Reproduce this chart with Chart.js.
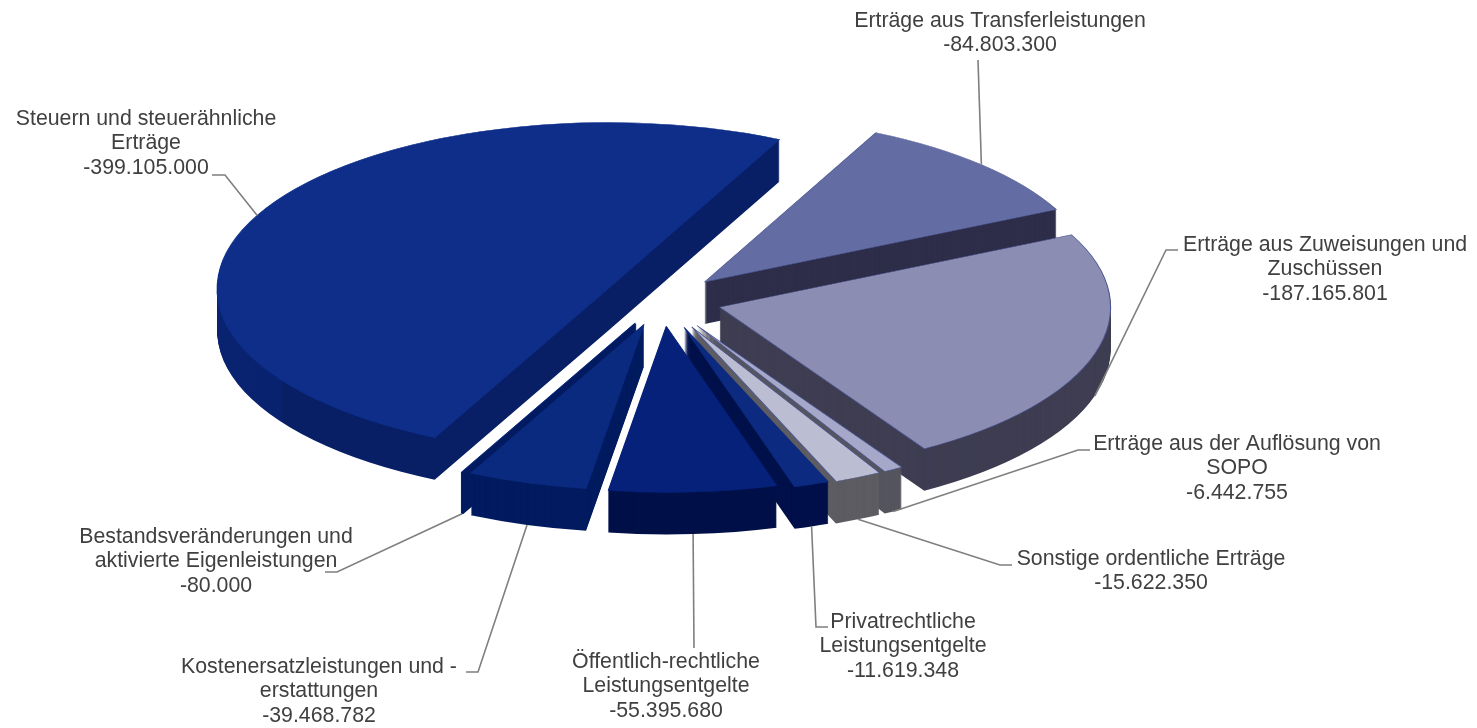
<!DOCTYPE html>
<html lang="de">
<head>
<meta charset="utf-8">
<title>Erträge</title>
<style>
    html, body { margin: 0; padding: 0; background: #fff; }
    canvas { display: block; }
</style>
</head>
<body>
<canvas id="pie" width="1477" height="728"></canvas>
<script src="https://cdn.jsdelivr.net/npm/chart.js@4/dist/chart.umd.min.js"></script>
<script>
// values, clockwise from the Transferleistungen slice
const categories = [
    ['Erträge aus Transferleistungen'],
    ['Erträge aus Zuweisungen und', 'Zuschüssen'],
    ['Erträge aus der Auflösung von', 'SOPO'],
    ['Sonstige ordentliche Erträge'],
    ['Privatrechtliche', 'Leistungsentgelte'],
    ['Öffentlich-rechtliche', 'Leistungsentgelte'],
    ['Kostenersatzleistungen und -', 'erstattungen'],
    ['Bestandsveränderungen und', 'aktivierte Eigenleistungen'],
    ['Steuern und steuerähnliche', 'Erträge']
];
const values = [-84803300, -187165801, -6442755, -15622350, -11619348, -55395680, -39468782, -80000, -399105000];

const topColors = ['#636ca3', '#8b8db3', '#a5a8c8', '#bbbdd3', '#0b2a80', '#05217a', '#0a2a80', '#0a2a80', '#0e2e8a'];
const sideColors = ['#2e2e4a', '#3e3d52', '#55555f', '#5c5c62', '#00104a', '#001048', '#021b60', '#021b60', '#0a2470'];
const borderColors = ['#4a5590', '#4a5590', '#4a5590', '#4a5590', '#0b2a80', '#05217a', '#0a2a80', '#0a2a80', '#0e2e8a'];

// how far each slice is pulled out
const explodes = [60, 60, 70, 70, 68, 62, 60, 60, 60];

// label centre x, first line y, leader elbow and leader end, same order as categories
const labelPos = [
    { x: 1000, y: 21, elbow: [978, 60], end: [978, 60] },
    { x: 1325, y: 245, elbow: [1166, 250], end: [1178, 250] },
    { x: 1237, y: 444, elbow: [1078, 450], end: [1090, 450] },
    { x: 1151, y: 559, elbow: [1000, 565], end: [1012, 565] },
    { x: 903, y: 622, elbow: [816, 627], end: [828, 627] },
    { x: 666, y: 662, elbow: [694, 648], end: [694, 648] },
    { x: 319, y: 667, elbow: [478, 672], end: [466, 672] },
    { x: 216, y: 537, elbow: [337, 572], end: [325, 572] },
    { x: 146, y: 119, elbow: [225, 175], end: [212, 175] }
];

// 3d look
const centerX = 662, centerY = 300;
const squash = 0.425;
const rimRadius = 391;
const depth = 42;
const thinSlice = 7; // Bestandsveränderungen, too narrow to fill without a stroke

const lineHeight = 24.4;

function slicePlace(arc, i) {
    const mid = (arc.startAngle + arc.endAngle) / 2;
    return {
        mid: mid,
        x: centerX + explodes[i] * Math.cos(mid),
        y: centerY + squash * explodes[i] * Math.sin(mid),
        k: rimRadius / arc.outerRadius
    };
}

// arc point in page pixels
function project(arc, i, angle) {
    const p = slicePlace(arc, i);
    return {
        x: p.x + rimRadius * Math.cos(angle),
        y: p.y + squash * rimRadius * Math.sin(angle)
    };
}

function paintArc(ctx, arc, i, dy, fill, border, borderWidth) {
    const p = slicePlace(arc, i);
    const saved = arc.options;
    arc.options = Object.assign({}, saved, { backgroundColor: fill, borderColor: border, borderWidth: borderWidth });
    ctx.save();
    ctx.translate(p.x, p.y + dy);
    ctx.scale(p.k, p.k * squash);
    ctx.translate(-arc.x, -arc.y);
    arc.draw(ctx);
    ctx.restore();
    arc.options = saved;
}

function sideFill(ctx, arc, i) {
    // the big slice has a darker cut face right of its lower tip
    if (i !== values.length - 1) return sideColors[i];
    const left = centerX - rimRadius - explodes[i];
    const right = 800;
    const stop = (project(arc, i, arc.startAngle).x - left) / (right - left);
    const g = ctx.createLinearGradient(left, 0, right, 0);
    g.addColorStop(0, '#0a2672');
    g.addColorStop(stop, '#092270');
    g.addColorStop(stop, '#081f66');
    g.addColorStop(1, '#081f66');
    return g;
}

const pie3d = {
    id: 'pie3d',
    beforeDatasetDraw(chart) {
        const ctx = chart.ctx;
        const arcs = chart.getDatasetMeta(0).data;
        const order = arcs.map((a, i) => i).sort((a, b) => {
            return Math.sin(slicePlace(arcs[a], a).mid) - Math.sin(slicePlace(arcs[b], b).mid);
        });
        order.forEach(i => {
            const arc = arcs[i];
            const side = sideFill(ctx, arc, i);
            const sideBorder = i === thinSlice ? 2.5 : 0;
            for (let d = depth; d > 0; d--) {
                paintArc(ctx, arc, i, d, side, side, sideBorder);
            }
            paintArc(ctx, arc, i, 0, topColors[i], borderColors[i], 1);
        });
        return false;
    },
    afterDraw(chart) {
        const ctx = chart.ctx;
        const arcs = chart.getDatasetMeta(0).data;
        // leader lines
        ctx.save();
        ctx.strokeStyle = '#7f7f7f';
        ctx.lineWidth = 1.6;
        arcs.forEach((arc, i) => {
            const mid = slicePlace(arc, i).mid;
            const p = project(arc, i, mid);
            const pos = labelPos[i];
            ctx.beginPath();
            ctx.moveTo(p.x, p.y + (Math.sin(mid) > 0 ? depth : 0));
            ctx.lineTo(pos.elbow[0], pos.elbow[1]);
            ctx.lineTo(pos.end[0], pos.end[1]);
            ctx.stroke();
        });
        ctx.restore();
        // labels
        ctx.save();
        ctx.font = '21.3px "Liberation Sans", Arial, sans-serif';
        ctx.fillStyle = '#404040';
        ctx.textAlign = 'center';
        ctx.textBaseline = 'middle';
        categories.forEach((lines, i) => {
            const pos = labelPos[i];
            const text = lines.concat(values[i].toLocaleString('de-DE'));
            text.forEach((line, n) => {
                ctx.fillText(line, pos.x, pos.y + n * lineHeight);
            });
        });
        ctx.restore();
    }
};

new Chart(document.getElementById('pie'), {
    type: 'pie',
    data: {
        labels: categories.map(c => c.join(' ')),
        datasets: [{
            data: values,
            backgroundColor: topColors,
            borderColor: borderColors,
            borderWidth: 0
        }]
    },
    options: {
        responsive: false,
        animation: false,
        rotation: 26,
        layout: { padding: 0 },
        plugins: {
            legend: { display: false },
            tooltip: { enabled: false },
            title: { display: false }
        }
    },
    plugins: [pie3d]
});
</script>
</body>
</html>
